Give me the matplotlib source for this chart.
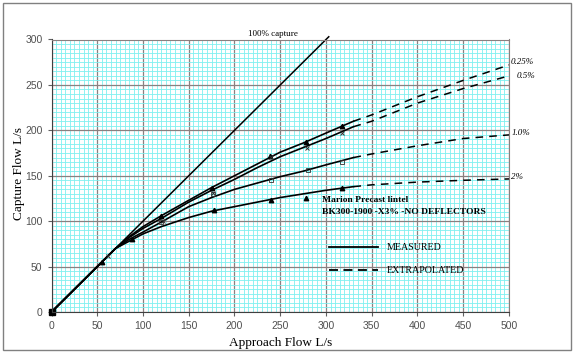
import matplotlib
matplotlib.use("Agg")
import matplotlib.pyplot as plt
from matplotlib.patches import Rectangle
from matplotlib.ticker import MultipleLocator

# ---- data ----
ref_x = [0, 303]
ref_y = [0, 303]

cur_x = [0, 70, 85, 100, 120, 150, 175, 200, 225, 250, 275, 300, 330]
c025_y = [0, 70, 83, 94, 106, 123, 137, 150, 163, 176, 186, 197, 210]
c05_y = [0, 70, 82, 92, 103, 121, 134, 146, 159, 171, 181, 191, 204]
c10_y = [0, 70, 80, 88, 99, 116, 126, 135, 142, 149, 155, 162, 170]
c20_y = [0, 70, 78, 86, 94, 104, 111, 116, 121, 126, 130, 134, 138]

ext_x = [330, 350, 400, 450, 500]
e025_y = [210, 217, 237, 255, 272]
e05_y = [204, 210, 230, 246, 260]
e10_y = [170, 174, 183, 191, 195]
e20_y = [138, 140, 143, 145, 146.5]

m025_x = [0, 55, 120, 175, 239, 278, 317]
m025_y = [0, 55, 106, 137, 172, 187, 205]
m05_x = [62, 122, 177, 240, 279, 318]
m05_y = [62, 100, 131, 171, 180, 197.5]
m10_x = [120, 176, 240, 280, 317]
m10_y = [99, 130, 145, 156, 165.5]
m20_x = [88, 178, 240, 278, 317]
m20_y = [80, 112, 123, 126, 137]

labels = ["0.25%", "0.5%", "1.0%", "2%"]
label_x = [502, 508, 503, 502]
label_y = [275, 260, 197, 148.5]

serif = ["Liberation Serif", "DejaVu Serif"]
sans = ["Liberation Sans", "DejaVu Sans"]

fig = plt.figure(figsize=(5.75, 3.53), dpi=100)
fig.patches.append(Rectangle((3 / 575, 3 / 353), 568 / 575, 347 / 353,
                             transform=fig.transFigure, fill=False,
                             edgecolor="#808080", linewidth=1.0))
ax = fig.add_axes([51.5 / 575, 41 / 353, 457.5 / 575, 272.5 / 353])

ax.set_xlim(0, 500)
ax.set_ylim(0, 300)
ax.xaxis.set_major_locator(MultipleLocator(50))
ax.yaxis.set_major_locator(MultipleLocator(50))
ax.xaxis.set_minor_locator(MultipleLocator(5))
ax.yaxis.set_minor_locator(MultipleLocator(5))
ax.grid(which="minor", color="#7ff0f0", linewidth=0.6, linestyle="-")
ax.grid(which="major", color="#8a8080", linewidth=0.9)
ax.set_axisbelow(True)
ax.tick_params(which="minor", length=0)
ax.tick_params(which="major", length=3, width=0.8, color="#606060",
               labelsize=7.5, labelcolor="#505050")
for lab in ax.get_xticklabels() + ax.get_yticklabels():
    lab.set_family(sans)
for s in ["top", "right"]:
    ax.spines[s].set_color("#8a8080")
for s in ["left", "bottom"]:
    ax.spines[s].set_color("#404040")

ax.plot(ref_x, ref_y, color="black", lw=1.1, clip_on=False)
ax.text(215, 301.5, "100% capture", family=serif, fontsize=6.5, ha="left", va="bottom")

for y in [c025_y, c05_y, c10_y, c20_y]:
    ax.plot(cur_x, y, color="black", lw=1.2)
for y in [e025_y, e05_y, e10_y, e20_y]:
    ax.plot(ext_x, y, color="black", lw=1.1, dashes=(5, 4))

ax.plot(m025_x, m025_y, "^", color="black", ms=3.2, ls="none")
ax.plot([0], [0], "s", color="black", ms=4, ls="none", clip_on=False)
ax.plot(m05_x, m05_y, "x", color="#303030", ms=3.5, mew=0.7, ls="none")
ax.plot(m10_x, m10_y, "s", mfc="none", mec="#303030", ms=3, mew=0.6, ls="none")
ax.plot(m20_x, m20_y, "^", color="black", ms=3.2, ls="none")

for lab, lx, ly in zip(labels, label_x, label_y):
    ax.text(lx, ly, lab, family=serif, style="italic", fontsize=6.5,
            ha="left", va="center", clip_on=False)

ax.text(296, 123, "Marion Precast lintel", family=serif, fontweight="bold",
        fontsize=6.8, ha="left", va="center")
ax.text(296, 110, "BK300-1900 -X3% -NO DEFLECTORS", family=serif,
        fontweight="bold", fontsize=6.8, ha="left", va="center")
ax.plot([303, 357], [71.5, 71.5], color="black", lw=1.3)
ax.plot([303, 357], [46, 46], color="black", lw=1.3, dashes=(5, 3))
ax.text(366, 71.5, "MEASURED", family=serif, fontsize=7.2, ha="left", va="center")
ax.text(366, 46, "EXTRAPOLATED", family=serif, fontsize=7.2, ha="left", va="center")

ax.set_xlabel("Approach Flow L/s", family=serif, fontsize=9.5, labelpad=4)
ax.set_ylabel("Capture Flow L/s", family=serif, fontsize=9.5)
ax.yaxis.set_label_coords(-0.058, 0.51)

fig.savefig("out.png", dpi=100)
